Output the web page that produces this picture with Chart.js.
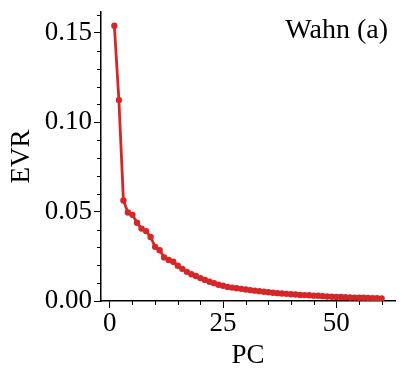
<!DOCTYPE html>
<html><head><meta charset="utf-8">
<script src="https://cdn.jsdelivr.net/npm/chart.js@4"></script>
<style>html,body{margin:0;padding:0;background:#fff}#wrap{width:407px;height:381px}</style>
</head><body><div id="wrap"><canvas id="c" width="407" height="381"></canvas></div>
<script>
const pcs = [];
for (let i = 1; i <= 60; i++) pcs.push(i);
const evr = [0.154,0.1124,0.0563,0.0495,0.0482,0.0438,0.0405,0.0391,0.0358,0.0303,
0.0284,0.0244,0.0229,0.0220,0.0197,0.0180,0.0163,0.0150,0.0140,0.0128,
0.0118,0.0108,0.0100,0.0091,0.0085,0.0079,0.0075,0.0072,0.0068,0.0064,
0.0061,0.0058,0.0055,0.0052,0.0049,0.0046,0.0044,0.0042,0.0040,0.0038,
0.0036,0.0034,0.0033,0.0032,0.0030,0.0029,0.0027,0.0025,0.0024,0.0023,
0.0022,0.0021,0.0020,0.0019,0.0018,0.0018,0.0017,0.0016,0.0015,0.0014];
const xMajor = [0,25,50];
const xMinor = [5,10,15,20,30,35,40,45,55,60];
const yMajor = [0,0.05,0.10,0.15];
const yMinor = [0.01,0.02,0.03,0.04,0.06,0.07,0.08,0.09,0.11,0.12,0.13,0.14,0.16];
const FONT = "'Liberation Serif','DejaVu Serif',serif";

const minorPlugin = {
  id:'minor',
  afterDraw(chart){
    const c = chart.ctx, xs = chart.scales.x, ys = chart.scales.y;
    c.save(); c.strokeStyle='#000'; c.lineWidth=1;
    const b = ys.getPixelForValue(0), l = xs.left;
    xMinor.forEach(v=>{const p=Math.round(xs.getPixelForValue(v))+0.5; c.beginPath(); c.moveTo(p,b); c.lineTo(p,b+4); c.stroke();});
    yMinor.forEach(v=>{const p=Math.round(ys.getPixelForValue(v))+0.5; if(p<ys.top-1)return; c.beginPath(); c.moveTo(l,p); c.lineTo(l-4,p); c.stroke();});
    c.fillStyle='#000'; c.font="28px "+FONT; c.textAlign='right'; c.textBaseline='middle';
    c.fillText('Wahn (a)', 388, 31);
    c.restore();
  }
};

new Chart(document.getElementById('c'), {
  type:'line',
  data:{labels:pcs, datasets:[{data:evr.map((v,i)=>({x:pcs[i],y:v})), borderColor:'#d62728', backgroundColor:'#d62728',
    borderWidth:2.8, pointRadius:3.2, pointHoverRadius:3.2, pointBorderWidth:0, tension:0}]},
  options:{
    responsive:false, animation:false, events:[],
    layout:{padding:{top:12,right:12,left:0,bottom:0}},
    plugins:{legend:{display:false}, tooltip:{enabled:false}},
    scales:{
      x:{type:'linear', min:-1.95, max:62.95,
        afterBuildTicks(s){s.ticks = xMajor.map(v=>({value:v}));},
        afterFit(s){s.height=80;},
        grid:{drawOnChartArea:false, tickLength:7, tickColor:'#000', tickWidth:1},
        border:{display:true, color:'#000', width:1.5},
        ticks:{color:'#000', font:{family:FONT, size:27}, padding:0, maxRotation:0, autoSkip:false, callback:v=>String(v)},
        title:{display:true, text:'PC', color:'#000', font:{family:FONT, size:27}, padding:{top:0,bottom:9}}
      },
      y:{type:'linear', min:0, max:0.1617,
        afterBuildTicks(s){s.ticks = yMajor.map(v=>({value:v}));},
        afterFit(s){s.width=101;},
        grid:{drawOnChartArea:false, tickLength:7, tickColor:'#000', tickWidth:1},
        border:{display:true, color:'#000', width:1.5},
        ticks:{color:'#000', font:{family:FONT, size:27, lineHeight:0.6}, padding:2, autoSkip:false, callback:v=>v.toFixed(2)},
        title:{display:true, text:'EVR', color:'#000', font:{family:FONT, size:27}, padding:{top:6,bottom:0}}
      }
    }
  },
  plugins:[minorPlugin]
});
</script></body></html>
